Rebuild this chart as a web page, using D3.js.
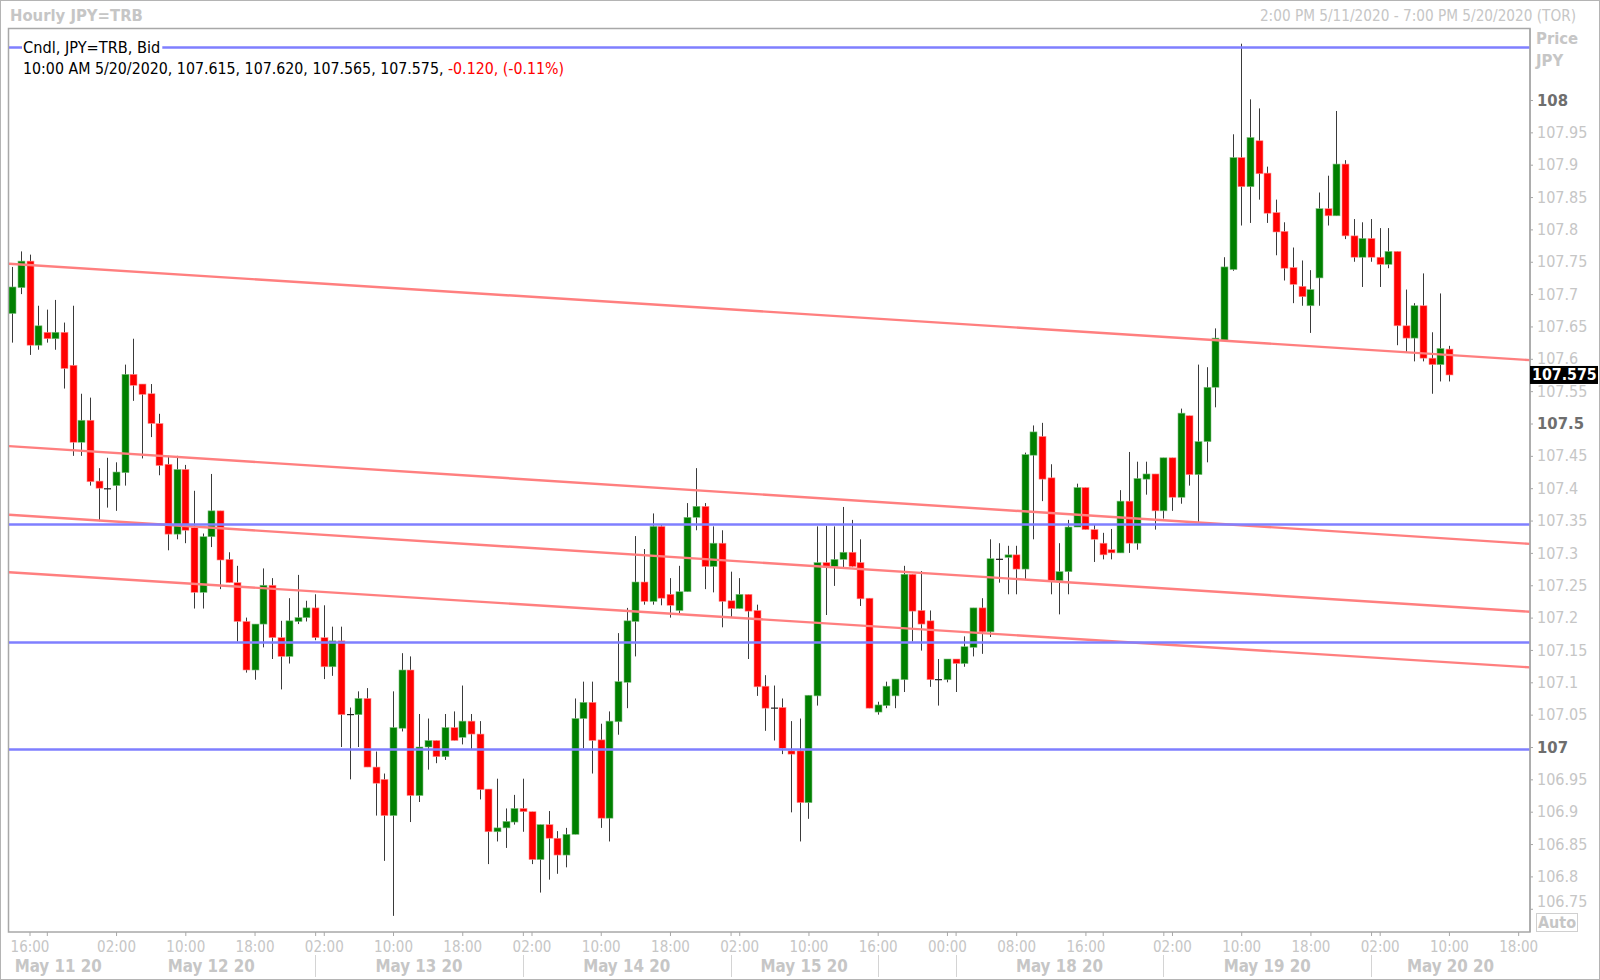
<!DOCTYPE html>
<html><head><meta charset="utf-8">
<script src="https://cdn.jsdelivr.net/npm/d3@7"></script>
<style>
body{margin:0;background:#fff;}
svg text{font-family:"DejaVu Sans Condensed","DejaVu Sans",sans-serif;}
</style></head><body>
<svg id="c" width="1600" height="980"></svg>
<script>
// ---------------- DATA ----------------
const titleLeft = "Hourly JPY=TRB";
const titleRight = "2:00 PM 5/11/2020 - 7:00 PM 5/20/2020 (TOR)";
const legendName = "Cndl, JPY=TRB, Bid";
const legendValues = "10:00 AM 5/20/2020, 107.615, 107.620, 107.565, 107.575, ";
const legendChange = "-0.120, (-0.11%)";

// hourly candles, index 0 = 2:00 PM 5/11/2020 (trading-hour index)
const open = [107.670,107.710,107.751,107.621,107.641,107.631,107.641,107.590,107.471,107.505,
107.411,107.400,107.404,107.424,107.576,107.561,107.546,107.500,107.437,107.329,
107.429,107.339,107.239,107.325,107.365,107.290,107.254,107.194,107.119,107.190,
107.250,107.169,107.140,107.194,107.200,107.215,107.169,107.124,107.164,107.050,
107.050,107.075,106.969,106.950,106.894,107.029,107.119,106.925,107.000,107.010,
106.985,107.030,107.015,107.040,107.020,106.935,106.869,106.875,106.884,106.905,
106.900,106.826,106.880,106.859,106.833,106.865,107.044,107.069,107.011,106.890,
107.039,107.100,107.194,107.255,107.225,107.341,107.236,107.211,107.240,107.355,
107.372,107.279,107.315,107.226,107.214,107.236,107.211,107.094,107.061,107.061,
106.994,106.994,106.914,107.079,107.285,107.279,107.290,107.301,107.285,107.230,
107.054,107.064,107.079,107.104,107.267,107.211,107.195,107.105,107.104,107.136,
107.129,107.154,107.215,107.178,107.291,107.293,107.297,107.275,107.451,107.480,
107.416,107.257,107.271,107.340,107.401,107.336,107.315,107.305,107.300,107.380,
107.315,107.414,107.422,107.365,107.447,107.386,107.512,107.421,107.472,107.556,
107.629,107.738,107.911,107.866,107.937,107.887,107.826,107.797,107.741,107.712,
107.682,107.725,107.832,107.821,107.901,107.790,107.757,107.786,107.757,107.746,
107.766,107.651,107.632,107.682,107.601,107.591,107.615];
const high = [107.742,107.766,107.761,107.682,107.676,107.691,107.656,107.682,107.546,107.540,
107.431,107.447,107.440,107.591,107.631,107.561,107.561,107.515,107.450,107.450,
107.436,107.396,107.330,107.422,107.365,107.301,107.280,107.200,107.190,107.276,
107.261,107.195,107.230,107.266,107.226,107.236,107.219,107.186,107.186,107.061,
107.086,107.091,106.993,106.959,107.086,107.145,107.140,107.051,107.044,107.010,
107.051,107.055,107.095,107.051,107.040,106.935,106.951,106.905,106.926,106.951,
106.900,106.880,106.901,106.870,106.875,107.075,107.101,107.101,107.036,107.055,
107.176,107.215,107.326,107.306,107.361,107.343,107.261,107.280,107.377,107.431,
107.377,107.341,107.335,107.271,107.261,107.236,107.220,107.111,107.095,107.075,
107.040,107.044,107.080,107.341,107.342,107.341,107.371,107.351,107.321,107.230,
107.070,107.101,107.105,107.280,107.267,107.272,107.211,107.136,107.136,107.136,
107.171,107.215,107.230,107.321,107.315,107.311,107.311,107.455,107.497,107.501,
107.437,107.315,107.351,107.407,107.401,107.344,107.331,107.337,107.397,107.456,
107.441,107.441,107.422,107.447,107.447,107.523,107.512,107.591,107.587,107.647,
107.757,107.947,108.087,108.001,107.987,107.897,107.846,107.811,107.772,107.752,
107.737,107.857,107.883,107.983,107.907,107.816,107.811,107.816,107.802,107.802,
107.766,107.707,107.686,107.732,107.641,107.701,107.620];
const low = [107.625,107.700,107.606,107.614,107.625,107.614,107.554,107.450,107.450,107.404,
107.349,107.370,107.365,107.404,107.535,107.446,107.479,107.420,107.304,107.321,
107.315,107.214,107.214,107.309,107.244,107.254,107.163,107.115,107.104,107.154,
107.136,107.089,107.129,107.190,107.194,107.165,107.105,107.110,107.000,106.950,
107.000,106.969,106.894,106.824,106.739,107.024,106.884,106.915,106.965,106.975,
106.980,107.010,107.004,106.997,106.919,106.819,106.854,106.844,106.880,106.869,
106.819,106.775,106.795,106.804,106.814,106.865,106.998,106.959,106.875,106.854,
107.019,107.060,107.140,107.220,107.220,107.219,107.200,107.206,107.240,107.335,
107.244,107.239,107.185,107.201,107.214,107.136,107.079,107.025,107.010,106.989,
106.899,106.854,106.889,107.064,107.204,107.249,107.278,107.278,107.218,107.060,
107.050,107.060,107.060,107.085,107.163,107.149,107.093,107.064,107.100,107.085,
107.124,107.140,107.144,107.170,107.254,107.236,107.236,107.258,107.321,107.380,
107.236,107.205,107.236,107.340,107.336,107.286,107.290,107.290,107.300,107.300,
107.305,107.390,107.336,107.353,107.365,107.376,107.404,107.347,107.440,107.525,
107.629,107.736,107.806,107.810,107.846,107.810,107.760,107.721,107.686,107.682,
107.640,107.682,107.806,107.821,107.785,107.750,107.711,107.750,107.711,107.740,
107.621,107.610,107.596,107.596,107.546,107.565,107.565];
const close = [107.711,107.751,107.621,107.651,107.631,107.641,107.585,107.471,107.505,107.410,
107.400,107.400,107.425,107.576,107.559,107.545,107.500,107.435,107.329,107.429,
107.335,107.239,107.325,107.365,107.289,107.254,107.194,107.119,107.190,107.250,
107.169,107.140,107.195,107.200,107.215,107.169,107.124,107.164,107.050,107.051,
107.075,106.969,106.944,106.894,107.030,107.119,106.925,107.000,107.010,106.985,
107.030,107.010,107.040,107.020,106.934,106.869,106.875,106.885,106.905,106.900,
106.826,106.880,106.859,106.833,106.865,107.044,107.069,107.010,106.890,107.040,
107.101,107.195,107.255,107.225,107.341,107.230,107.219,107.240,107.355,107.372,
107.279,107.315,107.225,107.214,107.236,107.210,107.093,107.060,107.061,106.998,
106.989,106.914,107.080,107.285,107.278,107.290,107.301,107.279,107.229,107.060,
107.065,107.094,107.105,107.267,107.210,107.190,107.104,107.105,107.136,107.129,
107.155,107.215,107.178,107.291,107.291,107.297,107.275,107.452,107.487,107.414,
107.257,107.271,107.340,107.401,107.336,107.321,107.297,107.300,107.380,107.315,
107.415,107.422,107.365,107.447,107.386,107.516,107.421,107.472,107.556,107.632,
107.742,107.911,107.866,107.942,107.886,107.825,107.796,107.740,107.715,107.696,
107.707,107.832,107.821,107.901,107.790,107.757,107.786,107.757,107.746,107.766,
107.651,107.632,107.682,107.601,107.591,107.616,107.575];

// horizontal (blue) levels and falling (red) trend lines: price at left and right edge of plot
const levels = [108.082, 107.345, 107.162, 106.997];
const trendStart = [107.747, 107.465, 107.359, 107.270];
const trendEnd   = [107.598, 107.314, 107.209, 107.123];

// price axis
const yTicks = [106.75,106.8,106.85,106.9,106.95,107,107.05,107.1,107.15,107.2,107.25,107.3,
107.35,107.4,107.45,107.5,107.55,107.6,107.65,107.7,107.75,107.8,107.85,107.9,107.95,108];
const yTicksBold = [107, 107.5, 108];

// time axis (candle index -> label)
const xTickIdx = [2,12,20,28,36,44,52,60,68,76,84,92,100,108,116,124,134,142,150,158,166,174];
const xTickLabels = ["16:00","02:00","10:00","18:00","02:00","10:00","18:00","02:00","10:00","18:00",
"02:00","10:00","16:00","00:00","08:00","16:00","02:00","10:00","18:00","02:00","10:00","18:00"];
const xMinorIdx = [4,35,59,83,109,126,133,157];
const daySepIdx = [35,59,83,100,109,133,157];
const dayLabels = ["May 11 20","May 12 20","May 13 20","May 14 20","May 15 20","May 18 20","May 19 20","May 20 20"];
const dayFrom = [-1,11,35,59,83,109,133,157];
const dayTo   = [11,35,59,83,100,133,157,180];

// ---------------- LAYOUT ----------------
const W = 1600, H = 980;
const P = {l: 9, t: 28.5, r: 1530, b: 932};
const svg = d3.select("#c");

const x = d3.scaleLinear().domain([0, 174]).range([12.2, 12.2 + 174 * 8.655]);
const y = d3.scaleLinear().domain([106.75, 108]).range([908.75, 100]);

const LIGHT = "#c6c6c6";
const GRID = "#a8a8a8";

svg.append("rect").attr("x",0.5).attr("y",0.5).attr("width",W-1).attr("height",H-1)
  .attr("fill","#fff").attr("stroke","#b4b4b4");

// header
svg.append("text").attr("x",10).attr("y",21).attr("font-size",16.5).attr("font-weight","bold")
  .attr("fill",LIGHT).text(titleLeft);
svg.append("text").attr("x",1576).attr("y",21).attr("font-size",15.2).attr("text-anchor","end")
  .attr("fill",LIGHT).text(titleRight);

// plot frame
svg.append("rect").attr("x",P.l-0.5).attr("y",P.t).attr("width",P.r-P.l+0.5).attr("height",P.b-P.t)
  .attr("fill","#fff").attr("stroke",GRID).attr("stroke-width",1.5);

svg.append("clipPath").attr("id","clip").append("rect")
  .attr("x",P.l).attr("y",P.t+1).attr("width",P.r-P.l).attr("height",P.b-P.t-1);
const g = svg.append("g").attr("clip-path","url(#clip)");

const idx = d3.range(open.length);
const GREEN = "#008000", RED = "#ff0000";
const bw = 7;

// wicks
g.selectAll("line.wick").data(idx).join("line").attr("class","wick")
  .attr("x1",i=>Math.round(x(i))+0.5).attr("x2",i=>Math.round(x(i))+0.5)
  .attr("y1",i=>y(high[i])).attr("y2",i=>y(low[i]))
  .attr("stroke","#3a3a3a").attr("stroke-width",1);

// bodies
g.selectAll("rect.body").data(idx).join("rect").attr("class","body")
  .attr("x",i=>Math.round(x(i))+0.5-bw/2)
  .attr("width",bw)
  .attr("y",i=>y(Math.max(open[i],close[i])))
  .attr("height",i=>Math.max(1.2, Math.abs(y(open[i])-y(close[i]))))
  .attr("fill",i=>{
    if (Math.abs(y(open[i])-y(close[i])) < 1.2) return "#222";
    return close[i] >= open[i] ? GREEN : RED;
  })
  .attr("stroke",i=> close[i] >= open[i] ? "#7fbf7f" : "#ff9090")
  .attr("stroke-width",i=> Math.abs(y(open[i])-y(close[i])) < 1.2 ? 0 : 0.6);

// red trend lines
const tL = x.invert(P.l), tR = x.invert(P.r);
g.selectAll("line.trend").data(d3.range(trendStart.length)).join("line").attr("class","trend")
  .attr("x1",x(tL)).attr("x2",x(tR))
  .attr("y1",k=>y(trendStart[k])).attr("y2",k=>y(trendEnd[k]))
  .attr("stroke","#ff7f7f").attr("stroke-width",2.4);

// blue levels
g.selectAll("line.level").data(levels).join("line").attr("class","level")
  .attr("x1",x(tL)).attr("x2",x(tR))
  .attr("y1",d=>Math.round(y(d))+0.5).attr("y2",d=>Math.round(y(d))+0.5)
  .attr("stroke","#7f7fff").attr("stroke-width",2.6);

// legend
const lg = svg.append("g");
const lname = lg.append("text").attr("x",23).attr("y",52.5).attr("font-size",16.2).attr("fill","#000").text(legendName);
const nb = lname.node().getBBox();
lg.insert("rect","text").attr("x",nb.x-1).attr("y",Math.round(y(levels[0]))-3).attr("width",nb.width+3).attr("height",7).attr("fill","#fff");
const lv = lg.append("text").attr("x",23).attr("y",73.5).attr("font-size",15.8).attr("fill","#000");
lv.append("tspan").text(legendValues);
lv.append("tspan").attr("fill","#ff0000").text(legendChange);

// y axis (right)
const yAxis = d3.axisRight(y).tickValues(yTicks).tickSize(3).tickPadding(4)
  .tickFormat(d=>d3.format("")(+d.toFixed(3)));
const ya = svg.append("g").attr("transform",`translate(${P.r},0)`).call(yAxis);
ya.select(".domain").remove();
ya.selectAll(".tick line").attr("stroke",GRID);
ya.selectAll(".tick text")
  .attr("font-size",d=>yTicksBold.includes(d) ? 16.5 : 16)
  .attr("fill",d=>yTicksBold.includes(d) ? "#6e6e6e" : LIGHT)
  .attr("font-weight",d=>yTicksBold.includes(d) ? "bold" : "normal")
  .attr("dy",d=> d===106.75 ? "-0.15em" : "0.32em");
svg.append("line").attr("x1",P.r).attr("x2",P.r).attr("y1",P.t).attr("y2",P.b).attr("stroke",GRID).attr("stroke-width",1.5);

svg.append("text").attr("x",1536).attr("y",44).attr("font-size",16.5).attr("font-weight","bold").attr("fill",LIGHT).text("Price");
svg.append("text").attr("x",1536).attr("y",66).attr("font-size",16.5).attr("font-weight","bold").attr("fill",LIGHT).text("JPY");

// Auto box
svg.append("rect").attr("x",1536.5).attr("y",913.5).attr("width",41).attr("height",18).attr("fill","#fff").attr("stroke","#d0d0d0");
svg.append("text").attr("x",1557).attr("y",928).attr("text-anchor","middle").attr("font-size",16).attr("font-weight","bold").attr("fill",LIGHT).text("Auto");

// last price box
const last = close[close.length-1];
svg.append("rect").attr("x",P.r).attr("y",y(last)-9).attr("width",68).attr("height",18).attr("fill","#000");
svg.append("text").attr("x",P.r+2).attr("y",y(last)+5.5).attr("font-size",15.8).attr("font-weight","bold").attr("fill","#fff").text(d3.format(".3f")(last));

// x axis
const xAxis = d3.axisBottom(x).tickValues(xTickIdx).tickSize(4).tickPadding(5)
  .tickFormat((d,i)=>xTickLabels[i]);
const xa = svg.append("g").attr("transform",`translate(0,${P.b})`).call(xAxis);
xa.select(".domain").remove();
xa.selectAll(".tick line").attr("stroke",GRID);
xa.selectAll(".tick text").attr("font-size",15).attr("fill",LIGHT);

const xm = svg.append("g").attr("transform",`translate(0,${P.b})`)
  .call(d3.axisBottom(x).tickValues(xMinorIdx).tickSize(4).tickFormat(""));
xm.select(".domain").remove();
xm.selectAll(".tick line").attr("stroke",GRID);

// day separators
svg.selectAll("line.daysep").data(daySepIdx).join("line").attr("class","daysep")
  .attr("x1",d=>Math.round(x(d))+0.5).attr("x2",d=>Math.round(x(d))+0.5)
  .attr("y1",955).attr("y2",977).attr("stroke","#d4d4d4");

// day labels
svg.selectAll("text.day").data(dayLabels).join("text").attr("class","day")
  .attr("x",(d,i)=>{
    const a = Math.max(P.l, x(dayFrom[i])), b = Math.min(P.r, x(dayTo[i]));
    return (a+b)/2;
  })
  .attr("y",972).attr("text-anchor","middle").attr("font-size",16.8).attr("font-weight","bold")
  .attr("fill",LIGHT).text(d=>d);
</script>
</body></html>
